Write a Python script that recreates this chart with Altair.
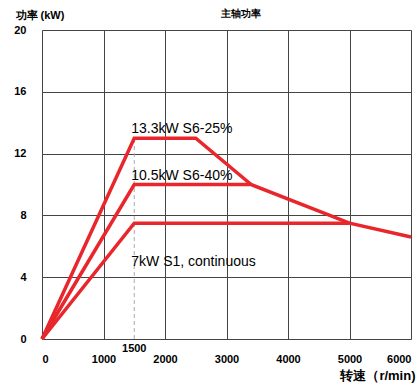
import altair as alt
import pandas as pd

# data
s25_x = [0, 1500, 2500, 3400]
s25_y = [0, 13, 13, 10]
s40_x = [0, 1500, 3400, 5000, 6000]
s40_y = [0, 10, 10, 7.5, 6.6]
s1_x = [0, 1500, 5000]
s1_y = [0, 7.5, 7.5]

label_text = ["13.3kW S6-25%", "10.5kW S6-40%", "7kW S1, continuous"]
label_x = [1500, 1500, 1500]
label_y = [13, 10, 4.4]

x_ticks = [0, 1000, 2000, 3000, 4000, 5000, 6000]
y_ticks = [0, 4, 8, 12, 16, 20]

rows = []
for name, xs, ys in [("s25", s25_x, s25_y), ("s40", s40_x, s40_y), ("s1", s1_x, s1_y)]:
    for i, (a, b) in enumerate(zip(xs, ys)):
        rows.append({"series": name, "order": i, "speed": a, "power": b})
lines_df = pd.DataFrame(rows)
labels_df = pd.DataFrame({"text": label_text, "speed": label_x, "power": label_y})
dash_df = pd.DataFrame({"speed": [1500], "p0": [0], "p1": [13]})
mark1500_df = pd.DataFrame({"speed": [1500], "power": [0], "text": ["1500"]})

FONT = "Liberation Sans"

xscale = alt.Scale(domain=[0, 6000], nice=False, zero=False)
yscale = alt.Scale(domain=[0, 20], nice=False, zero=False)

xaxis = alt.Axis(values=x_ticks, format="d", grid=True, gridColor="#444", gridWidth=1,
                 ticks=False, domain=False, labelPadding=14, labelFontSize=11,
                 labelFontWeight="bold", labelFont=FONT, labelColor="#000",
                 title="转速（r/min)", titleFontSize=13, titleFont=FONT,
                 titleFontWeight="bold", titleColor="#000",
                 titleAnchor="end", titleAlign="right", titleX=373, titleY=30)
yaxis = alt.Axis(values=y_ticks, grid=True, gridColor="#444", gridWidth=1,
                 ticks=False, domain=False, labelPadding=16, labelFontSize=11,
                 labelFontWeight="bold", labelFont=FONT, labelColor="#000",
                 title="功率 (kW)", titleFontSize=11, titleFont=FONT,
                 titleFontWeight="bold", titleColor="#000", titleAngle=0,
                 titleAlign="left", titleX=-27, titleY=-10)

base = alt.Chart(lines_df)

lines = base.mark_line(color="#e8262b", strokeWidth=3.5, strokeJoin="miter").encode(
    x=alt.X("speed:Q", scale=xscale, axis=xaxis),
    y=alt.Y("power:Q", scale=yscale, axis=yaxis),
    detail="series:N",
    order="order:Q",
)

dash = alt.Chart(dash_df).mark_rule(color="#aaa", strokeDash=[4, 3], strokeWidth=1).encode(
    x=alt.X("speed:Q", scale=xscale), y=alt.Y("p0:Q", scale=yscale), y2="p1:Q"
)

texts = alt.Chart(labels_df).mark_text(
    align="left", baseline="bottom", font=FONT, fontSize=14, color="#000", dx=-3, dy=-2
).encode(x=alt.X("speed:Q", scale=xscale), y=alt.Y("power:Q", scale=yscale), text="text:N")

t1500 = alt.Chart(mark1500_df).mark_text(
    align="center", baseline="middle", font=FONT, fontSize=11, fontWeight="bold", color="#000", dy=10
).encode(x=alt.X("speed:Q", scale=xscale), y=alt.Y("power:Q", scale=yscale), text="text:N")

chart = alt.layer(dash, lines, texts, t1500).properties(
    width=369, height=309,
    title=alt.TitleParams("主轴功率", fontSize=10, font=FONT, fontWeight="bold",
                          color="#000", anchor="middle", dx=14, dy=24, offset=4,
                          baseline="bottom"),
    autosize=alt.AutoSizeParams(type="none"),
    padding={"left": 42, "top": 30, "right": 7, "bottom": 46},
).configure_view(stroke="#000", strokeWidth=3).configure(background="white")

chart.save("out.html", embed_options={"renderer": "svg", "actions": False})
